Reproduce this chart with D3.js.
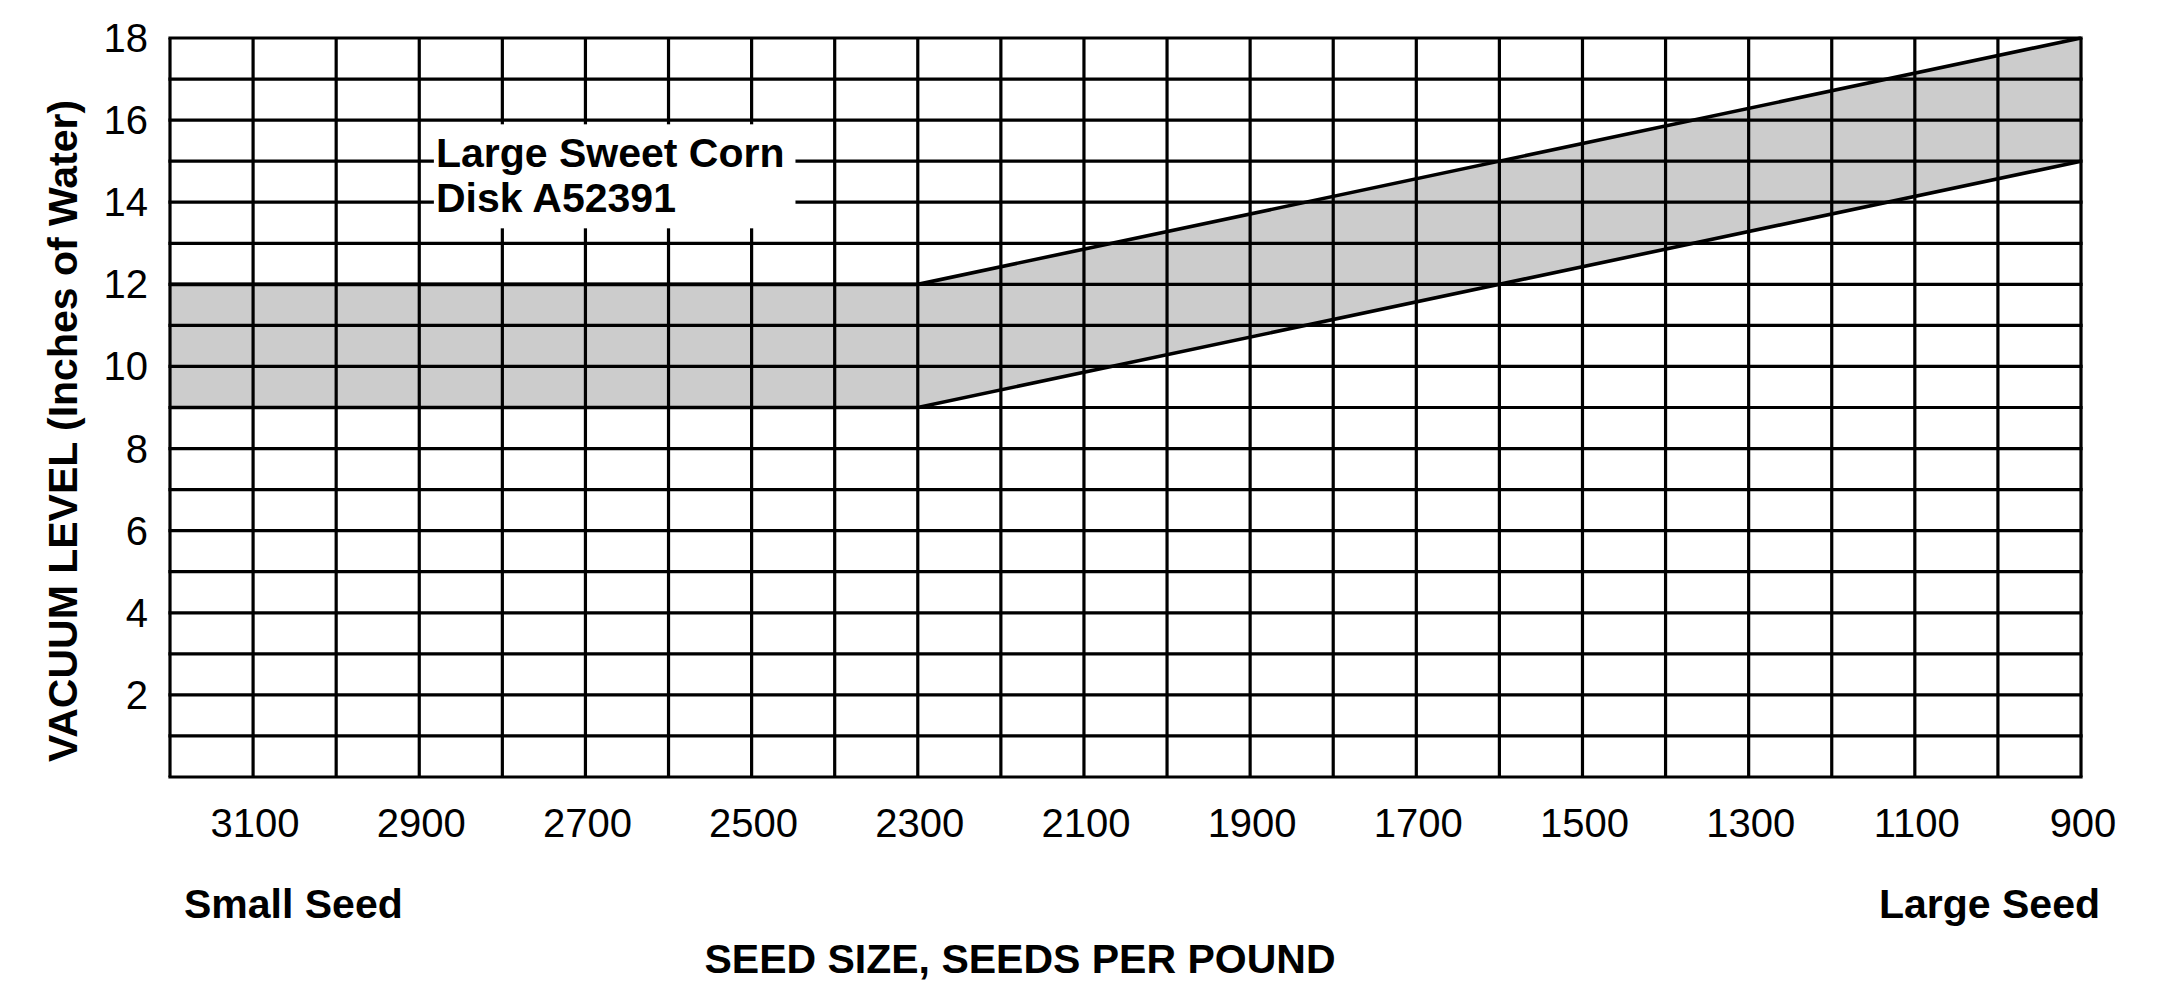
<!DOCTYPE html>
<html>
<head>
<meta charset="utf-8">
<script src="https://cdn.jsdelivr.net/npm/d3@7/dist/d3.min.js"></script>
<style>
  html, body { margin: 0; padding: 0; background: #fff; }
  svg { display: block; }
  text { font-family: "Liberation Sans", Arial, Helvetica, sans-serif; fill: #000; }
</style>
</head>
<body>
<svg id="chart" width="2158" height="992"></svg>
<script>
// ---- data ----
const seedSizeDomain = [3200, 900];           // seeds per pound (axis runs high -> low)
const vacuumDomain = [0, 18];                  // inches of water
const xTickValues = [3100, 2900, 2700, 2500, 2300, 2100, 1900, 1700, 1500, 1300, 1100, 900];
const yTickValues = [2, 4, 6, 8, 10, 12, 14, 16, 18];
const bandSeedSize = [3200, 2300, 900];
const bandLower = [9, 9, 15];
const bandUpper = [12, 12, 18];
const labelLines = ["Large Sweet Corn", "Disk A52391"];
const labelAnchor = [2880, 14.85];             // data position of label start
const xTitle = "SEED SIZE, SEEDS PER POUND";
const yTitle = "VACUUM LEVEL (Inches of Water)";
const leftNote = "Small Seed";
const rightNote = "Large Seed";

// ---- layout ----
const W = 2158, H = 992;
const plot = { left: 170, right: 2081, top: 38, bottom: 777 };
const svg = d3.select("#chart");

const x = d3.scaleLinear().domain(seedSizeDomain).range([plot.left, plot.right]);
const y = d3.scaleLinear().domain(vacuumDomain).range([plot.bottom, plot.top]);

const band = bandSeedSize.map((s, i) => ({ s, lo: bandLower[i], hi: bandUpper[i] }));

// band fill
svg.append("path")
  .datum(band)
  .attr("fill", "#cccccc")
  .attr("d", d3.area().x(d => x(d.s)).y0(d => y(d.lo)).y1(d => y(d.hi)));

// grid
const gridX = d3.range(seedSizeDomain[1], seedSizeDomain[0] + 1, 100);
const gridY = d3.range(vacuumDomain[0], vacuumDomain[1] + 1, 1);
const grid = svg.append("g").attr("stroke", "#000").attr("stroke-width", 3.2);
grid.selectAll("line.v").data(gridX).join("line")
  .attr("x1", d => x(d)).attr("x2", d => x(d))
  .attr("y1", plot.top).attr("y2", plot.bottom);
grid.selectAll("line.h").data(gridY).join("line")
  .attr("y1", d => y(d)).attr("y2", d => y(d))
  .attr("x1", plot.left - 1.6).attr("x2", plot.right + 1.6);

// band boundaries
const lineGen = d3.line().x(d => x(d[0])).y(d => y(d[1]));
svg.append("path").datum(band.map(d => [d.s, d.hi]))
  .attr("fill", "none").attr("stroke", "#000").attr("stroke-width", 3.6).attr("d", lineGen);
svg.append("path").datum(band.map(d => [d.s, d.lo]))
  .attr("fill", "none").attr("stroke", "#000").attr("stroke-width", 3.6).attr("d", lineGen);

// label with white box
const lx = x(labelAnchor[0]), ly = y(labelAnchor[1]);
const labelBox = svg.append("rect").attr("fill", "#fff");
const labelText = svg.append("text")
  .attr("font-size", 41).attr("font-weight", "bold");
labelLines.forEach((t, i) => {
  labelText.append("tspan").attr("x", lx).attr("y", ly + i * 45).text(t);
});
const bb = labelText.node().getBBox();
labelBox.attr("x", bb.x - 2).attr("width", bb.width + 13)
  .attr("y", ly - 43).attr("height", 45 + 43 + 16);

// y ticks
svg.append("g").selectAll("text").data(yTickValues).join("text")
  .attr("x", plot.left - 22).attr("y", d => y(d)).attr("dy", "0.35em")
  .attr("text-anchor", "end").attr("font-size", 40)
  .text(d => d);

// x ticks
svg.append("g").selectAll("text").data(xTickValues).join("text")
  .attr("x", d => x(d) + 2).attr("y", plot.bottom + 60)
  .attr("text-anchor", "middle").attr("font-size", 40)
  .text(d => d);

// notes
svg.append("text").attr("x", 184).attr("y", 918)
  .attr("font-size", 41).attr("font-weight", "bold").text(leftNote);
svg.append("text").attr("x", 2100).attr("y", 918).attr("text-anchor", "end")
  .attr("font-size", 41).attr("font-weight", "bold").text(rightNote);

// axis titles
svg.append("text").attr("x", 1020).attr("y", 973).attr("text-anchor", "middle")
  .attr("font-size", 41).attr("font-weight", "bold").text(xTitle);
svg.append("text").attr("transform", "translate(77,431) rotate(-90)")
  .attr("text-anchor", "middle")
  .attr("font-size", 41).attr("font-weight", "bold").text(yTitle);
</script>
</body>
</html>
